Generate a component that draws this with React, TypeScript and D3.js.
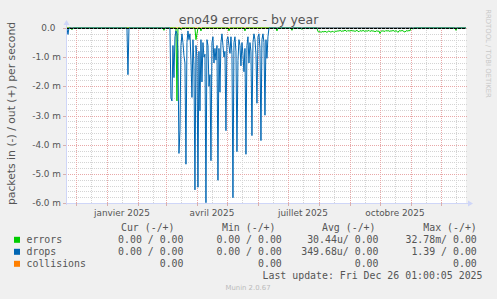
import React from "react";
import * as d3 from "d3";

const WIDTH = 497;
const HEIGHT = 299;

const TITLE = "eno49 errors - by year";
const Y_LABEL = "packets in (-) / out (+) per second";
const RANGE_START = "2024-11-21T01:00:00Z";
const RANGE_END = "2025-12-26T01:00:00Z";

// y axis in milli-packets per second
const yMajorTicks = [0, -1, -2, -3, -4, -5, -6];
const monthLabels = ["janvier 2025", "avril 2025", "juillet 2025", "octobre 2025"];
const monthLabelDates = ["2025-01-01", "2025-04-01", "2025-07-01", "2025-10-01"];

// drops (in, negative), daily averages, milli units; days not listed are 0
const dropsDates = ["2024-11-23", "2025-01-22"];
const dropsValues = [-0.22, -1.6];
const dropsRunStart = "2025-03-05";
const dropsRunValues = [
  0, -2.4, -2.5, -0.6, -1.7, -0.3, -0.1, -0.2, -0.8, -4.3,
  -3.5, -0.6, -0.2, -0.5, -0.95, -1.2, -4.67, -0.5, -0.1, -0.4,
  -0.2, -1.1, -2.38, -0.4, -1.3, -5.55, -0.6, -1.0, -5.46, -0.8,
  -2.84, -0.4, -1.85, -0.5, -1.0, -0.9, -5.99, -0.4, -0.6, -2.0,
  -1.6, -4.55, -0.5, -0.3, -1.2, -0.7, -1.1, -0.6, -5.22, -0.7,
  -2.2, -0.5, -0.2, -0.6, -1.0, -0.8, -3.52, -0.4, -0.3, -0.6,
  -0.87, -0.3, -0.9, -5.82, -0.5, -0.3, -0.8, -4.24, -1.12, -0.4,
  -0.6, -1.3, -0.5, -0.9, -1.5, -0.7, -4.33, -0.6, -0.3, -1.2,
  -0.5, -0.8, -3.69, -0.5, -0.2, -0.4, -0.9, -2.58, -0.3, -0.2,
  -0.7, -3.86, -0.4, -0.2, -0.5, -2.99, -0.4, -1.04, -0.3, 0,
];

// errors (in, negative), milli units
const errorsDates = [
  "2024-11-27", "2025-02-27", "2025-03-12", "2025-03-16", "2025-03-31", "2025-04-01",
  "2025-04-05", "2025-05-03", "2025-05-19", "2025-06-20", "2025-07-05", "2025-07-15",
  "2025-11-03", "2025-12-16",
];
const errorsValues = [
  -0.06, -0.08, -2.5, -0.06, -0.4, -0.2,
  -0.1, -0.1, -0.1, -0.1, -0.08, -0.05,
  -0.04, -0.08,
];
const errorsRunStart = "2025-07-31";
const errorsRunValues = [
  -0.12, -0.14, -0.12, -0.15, -0.13, -0.12, -0.14, -0.11, -0.13, -0.15, -0.12,
  -0.10, -0.13, -0.14, -0.12, -0.11, -0.15, -0.13, -0.10, -0.12, -0.09, -0.11,
  -0.08, -0.10, -0.12, -0.09, -0.11, -0.07, -0.10, -0.12, -0.08, -0.11, -0.09,
  -0.10, -0.08, -0.11, -0.09, -0.12, -0.10, -0.08, -0.11, -0.13, -0.09, -0.10,
  -0.11, -0.08, -0.10, -0.12, -0.09, -0.11, -0.10, -0.08, -0.12, -0.10, -0.09,
  -0.11, -0.10, -0.13, -0.11, -0.09, -0.12, -0.10, -0.19, -0.12, -0.09, -0.11,
  -0.10, -0.12, -0.08, -0.11, -0.09, -0.10, -0.12, -0.09, -0.11, -0.08, -0.10,
  -0.12, -0.09, -0.11, -0.15, -0.10, -0.09, -0.11, -0.08, -0.10, -0.12, -0.14,
  -0.10, -0.09, -0.11, -0.08, -0.10,
];

const legendNames = ["errors", "drops", "collisions"];
const legendColors = ["#00cc00", "#0066b3", "#ff8000"];
const legendHeaders = ["Cur (-/+)", "Min (-/+)", "Avg (-/+)", "Max (-/+)"];
const legendCur = ["0.00 / 0.00", "0.00 / 0.00", "0.00"];
const legendMin = ["0.00 / 0.00", "0.00 / 0.00", "0.00"];
const legendAvg = ["30.44u/ 0.00", "349.68u/ 0.00", "0.00"];
const legendMax = ["32.78m/ 0.00", "1.39 / 0.00", "0.00"];
const LAST_UPDATE = "Last update: Fri Dec 26 01:00:05 2025";
const MUNIN_VERSION = "Munin 2.0.67";
const WATERMARK = "RRDTOOL / TOBI OETIKER";

const DAY = 86400000;

function buildSeries(dates: string[], values: number[], runStart?: string, runValues?: number[]) {
  const map = new Map<number, number>();
  dates.forEach((d, i) => map.set(Date.parse(d + "T00:00:00Z"), values[i]));
  if (runStart && runValues) {
    const s = Date.parse(runStart + "T00:00:00Z");
    runValues.forEach((v, i) => map.set(s + i * DAY, v));
  }
  const start = new Date(RANGE_START);
  const end = new Date(RANGE_END);
  const days = d3.utcDay.range(d3.utcDay.floor(start), d3.utcDay.offset(d3.utcDay.ceil(end), 1));
  return days.map((d) => ({ date: d, value: map.get(+d) ?? 0 }));
}

export default function App() {
  const left = 66;
  const right = 466;
  const top = 28;
  const bottom = 203;
  const start = new Date(RANGE_START);
  const end = new Date(RANGE_END);

  const x = d3.scaleUtc().domain([start, end]).range([left, right]);
  const y = d3.scaleLinear().domain([-6, 0]).range([bottom, top]);

  const drops = buildSeries(dropsDates, dropsValues, dropsRunStart, dropsRunValues);
  const errors = buildSeries(errorsDates, errorsValues, errorsRunStart, errorsRunValues);
  const zeros = buildSeries([], []);

  const line = d3
    .line<{ date: Date; value: number }>()
    .x((d) => x(d.date))
    .y((d) => y(d.value));

  const minorY = d3.range(0, 31).map((i) => -i * 0.2).filter((v, i) => i % 5 !== 0);
  const monthStarts = d3.utcMonth.range(d3.utcMonth.ceil(start), end);
  const midMonths = d3.utcMonth
    .range(d3.utcMonth.floor(start), end)
    .map((m) => d3.utcDay.offset(m, 15))
    .filter((d) => d >= start && d <= end);

  const fontSans = "'DejaVu Sans', sans-serif";
  const fontMono = "'DejaVu Sans Mono', monospace";
  const textColor = "#555555";
  const axisColor = "#CFD6F8";

  const rowY = [239.8, 251.8, 263.8];
  const colEnds = [183.5, 281.8, 378.5, 476.8];
  const headerEnds = [174.5, 275.5, 375.5, 476.8];
  const cols = [legendCur, legendMin, legendAvg, legendMax];

  return (
    <svg
      width={WIDTH}
      height={HEIGHT}
      style={{ position: "fixed", left: 0, top: 0, display: "block" }}
    >
      <defs>
        <clipPath id="plotclip">
          <rect x={left} y={top - 1} width={right - left} height={bottom - top + 2} />
        </clipPath>
      </defs>
      <rect x={0} y={0} width={WIDTH} height={HEIGHT} fill="#F0F0F0" />
      <rect x={left} y={top} width={right - left} height={bottom - top} fill="#FFFFFF" />

      {/* minor grid */}
      {minorY.map((v, i) => (
        <line
          key={"mh" + i}
          x1={left}
          x2={right + 2}
          y1={Math.round(y(v)) + 0.5}
          y2={Math.round(y(v)) + 0.5}
          stroke="#d4d4d4"
          strokeDasharray="1,1"
        />
      ))}
      {midMonths.map((d, i) => (
        <line
          key={"mv" + i}
          x1={Math.round(x(d)) + 0.5}
          x2={Math.round(x(d)) + 0.5}
          y1={top}
          y2={bottom}
          stroke="#d4d4d4"
          strokeDasharray="1,1"
        />
      ))}
      {/* major grid */}
      {yMajorTicks.map((v, i) => (
        <line
          key={"Mh" + i}
          x1={left}
          x2={right + 2}
          y1={Math.round(y(v)) + 0.5}
          y2={Math.round(y(v)) + 0.5}
          stroke="#e8a8a8"
          strokeDasharray="1,1"
        />
      ))}
      {monthStarts.map((d, i) => (
        <line
          key={"Mv" + i}
          x1={Math.round(x(d)) + 0.5}
          x2={Math.round(x(d)) + 0.5}
          y1={top}
          y2={bottom}
          stroke="#e8a8a8"
          strokeDasharray="1,1"
        />
      ))}

      {/* series */}
      <g clipPath="url(#plotclip)">
        <path d={line(zeros) || ""} fill="none" stroke="#ff8000" strokeWidth={1} />
        <path d={line(errors) || ""} fill="none" stroke="#00cc00" strokeWidth={1} />
        <path d={line(drops) || ""} fill="none" stroke="#0066b3" strokeWidth={1} />
      </g>
      <line
        x1={left}
        x2={right}
        y1={y(0) + 0.5}
        y2={y(0) + 0.5}
        stroke="#000000"
        strokeWidth={1}
        strokeDasharray="3,1"
      />

      {/* axes */}
      <line x1={left + 0.5} x2={left + 0.5} y1={bottom + 2} y2={top - 4} stroke={axisColor} />
      <path d={`M${left - 2.5},${top - 3} L${left + 3.5},${top - 3} L${left + 0.5},${top - 8} Z`} fill={axisColor} />
      <line x1={left - 2} x2={right + 3} y1={bottom + 0.5} y2={bottom + 0.5} stroke={axisColor} />
      <path d={`M${right + 2},${bottom - 2.5} L${right + 2},${bottom + 3.5} L${right + 7},${bottom + 0.5} Z`} fill={axisColor} />
      {monthStarts.map((d, i) => (
        <line
          key={"tx" + i}
          x1={Math.round(x(d)) + 0.5}
          x2={Math.round(x(d)) + 0.5}
          y1={bottom}
          y2={bottom + 3}
          stroke="#d8b0b0"
        />
      ))}
      {yMajorTicks.map((v, i) => (
        <line
          key={"ty" + i}
          x1={left - 3}
          x2={left}
          y1={Math.round(y(v)) + 0.5}
          y2={Math.round(y(v)) + 0.5}
          stroke="#d8b0b0"
        />
      ))}

      {/* y tick labels */}
      {yMajorTicks.map((v, i) => (
        <text
          key={"yl" + i}
          x={61}
          y={y(v)}
          dy="0.35em"
          textAnchor="end"
          fontFamily={fontSans}
          fontSize={8.9}
          fill={textColor}
          style={{ whiteSpace: "pre" }}
        >
          {v === 0 ? "0.0  " : `${v.toFixed(1)} m`}
        </text>
      ))}

      {/* x labels */}
      {monthLabels.map((lab, i) => (
        <text
          key={"xl" + i}
          x={x(d3.utcDay.offset(new Date(monthLabelDates[i] + "T00:00:00Z"), 15))}
          y={215.5}
          textAnchor="middle"
          fontFamily={fontSans}
          fontSize={8.9}
          fill={textColor}
        >
          {lab}
        </text>
      ))}

      {/* title */}
      <text x={248.5} y={23.5} textAnchor="middle" fontFamily={fontSans} fontSize={12.5} fill={textColor}>
        {TITLE}
      </text>

      {/* y label */}
      <text
        transform={`translate(11.5, 113.5) rotate(-90)`}
        textAnchor="middle"
        dy="0.35em"
        fontFamily={fontSans}
        fontSize={10.8}
        fill={textColor}
      >
        {Y_LABEL}
      </text>

      {/* watermark */}
      <text
        transform={`translate(488.5, 53.5) rotate(90)`}
        textAnchor="middle"
        dy="0.35em"
        fontFamily={fontSans}
        fontSize={6.9}
        fill="#c8c8c8"
      >
        {WATERMARK}
      </text>

      {/* legend */}
      {legendHeaders.map((h, i) => (
        <text
          key={"lh" + i}
          x={headerEnds[i]}
          y={227.8}
          dy="0.35em"
          textAnchor="end"
          fontFamily={fontMono}
          fontSize={9.9}
          fill={textColor}
          style={{ whiteSpace: "pre" }}
        >
          {h}
        </text>
      ))}
      {legendNames.map((name, r) => (
        <g key={"lr" + r}>
          <rect x={14} y={rowY[r] - 3} width={6} height={6} fill={legendColors[r]} />
          <text
            x={26.5}
            y={rowY[r]}
            dy="0.35em"
            fontFamily={fontMono}
            fontSize={9.9}
            fill={textColor}
          >
            {name}
          </text>
          {cols.map((col, c) => (
            <text
              key={"lc" + c}
              x={colEnds[c]}
              y={rowY[r]}
              dy="0.35em"
              textAnchor="end"
              fontFamily={fontMono}
              fontSize={9.9}
              fill={textColor}
              style={{ whiteSpace: "pre" }}
            >
              {col[r]}
            </text>
          ))}
        </g>
      ))}
      <text
        x={482.5}
        y={275.8}
        dy="0.35em"
        textAnchor="end"
        fontFamily={fontMono}
        fontSize={9.9}
        fill={textColor}
      >
        {LAST_UPDATE}
      </text>
      <text
        x={248}
        y={287.8}
        dy="0.35em"
        textAnchor="middle"
        fontFamily={fontSans}
        fontSize={6.9}
        fill="#bbbbbb"
      >
        {MUNIN_VERSION}
      </text>
    </svg>
  );
}
